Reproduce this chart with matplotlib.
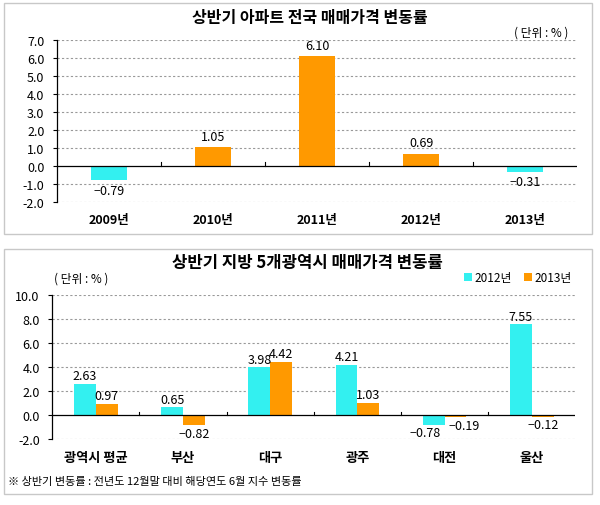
import matplotlib
matplotlib.use('agg')
import matplotlib.pyplot as plt
from matplotlib.patches import Rectangle
import numpy as np

plt.rcParams['font.family'] = ['Noto Sans CJK KR', 'DejaVu Sans']
plt.rcParams['axes.unicode_minus'] = False

# top chart data
years = ['2009년', '2010년', '2011년', '2012년', '2013년']
national = [-0.79, 1.05, 6.10, 0.69, -0.31]

# bottom chart data
cities = ['광역시 평균', '부산', '대구', '광주', '대전', '울산']
rate_2012 = [2.63, 0.65, 3.98, 4.21, -0.78, 7.55]
rate_2013 = [0.97, -0.82, 4.42, 1.03, -0.19, -0.12]
series_names = ['2012년', '2013년']

CYAN = '#33F0F0'
ORANGE = '#FF9900'
GRID = '#999999'


def style_axes(ax, lo, hi, step, n):
    ax.set_ylim(lo, hi)
    ax.set_xlim(-0.5, n - 0.5)
    ticks = np.arange(lo, hi + step / 2, step)
    ax.set_yticks(ticks)
    ax.set_yticklabels(['%.1f' % t for t in ticks], fontsize=9)
    for t in ticks:
        if abs(t) > 1e-9:
            ax.axhline(t, color=GRID, lw=0.8, ls=(0, (2, 2)), zorder=0)
    ax.axhline(0, color='black', lw=0.9, zorder=3)
    tick_h = (hi - lo) * 0.025
    for b in np.arange(0.5, n - 0.5, 1.0):
        ax.plot([b, b], [0, tick_h], color='black', lw=0.8, zorder=3)
    for s in ['top', 'right', 'bottom']:
        ax.spines[s].set_visible(False)
    ax.spines['left'].set_linewidth(0.9)
    ax.tick_params(axis='y', length=3, width=0.8, pad=6)
    ax.tick_params(axis='x', length=0, pad=8)


def fmt(v):
    return '%.2f' % v if v >= 0 else '\u2212%.2f' % abs(v)


fig = plt.figure(figsize=(6, 5.06), dpi=100)

# frames around each chart
fig.patches.append(Rectangle((0.007, 0.536), 0.98, 0.456, transform=fig.transFigure,
                             fill=False, ec='#c8c8c8', lw=1))
fig.patches.append(Rectangle((0.007, 0.022), 0.98, 0.484, transform=fig.transFigure,
                             fill=False, ec='#c8c8c8', lw=1))

# ---- top chart
ax1 = fig.add_axes([0.095, 0.599, 0.867, 0.320])
x1 = np.arange(len(years))
colors = [ORANGE if v >= 0 else CYAN for v in national]
ax1.bar(x1, national, width=0.34, color=colors, zorder=2)
style_axes(ax1, -2.0, 7.0, 1.0, len(years))
ax1.set_xticks(x1)
ax1.set_xticklabels(years, fontsize=9, fontweight='bold')
for xi, v in zip(x1, national):
    if v >= 0:
        ax1.text(xi, v + 0.25, fmt(v), ha='center', va='bottom', fontsize=9)
    else:
        ax1.text(xi, v - 0.2, fmt(v), ha='center', va='top', fontsize=9)
fig.text(0.517, 0.964, '상반기 아파트 전국 매매가격 변동률', ha='center', va='center',
         fontsize=11.5, fontweight='bold')
fig.text(0.948, 0.935, '( 단위 : % )', ha='right', va='center', fontsize=8.5)

# ---- bottom chart
ax2 = fig.add_axes([0.087, 0.130, 0.872, 0.285])
x2 = np.arange(len(cities))
w = 0.25
ax2.bar(x2 - w / 2, rate_2012, width=w, color=CYAN, zorder=2, label=series_names[0])
ax2.bar(x2 + w / 2, rate_2013, width=w, color=ORANGE, zorder=2, label=series_names[1])
style_axes(ax2, -2.0, 10.0, 2.0, len(cities))
ax2.set_xticks(x2)
ax2.set_xticklabels(cities, fontsize=9.5, fontweight='bold')
for xi, a, b in zip(x2, rate_2012, rate_2013):
    # spread labels apart when both hang below the axis
    nudge = 0.1 if (a < 0 and b < 0) else 0.0
    for off, v in [(-w / 2 - nudge, a), (w / 2 + nudge, b)]:
        if v >= 0:
            ax2.text(xi + off, v + 0.15, fmt(v), ha='center', va='bottom', fontsize=9)
        else:
            ax2.text(xi + off, v - 0.15, fmt(v), ha='center', va='top', fontsize=9)
fig.text(0.513, 0.480, '상반기 지방 5개광역시 매매가격 변동률', ha='center', va='center',
         fontsize=12, fontweight='bold')
fig.text(0.09, 0.449, '( 단위 : % )', ha='left', va='center', fontsize=8.5)
ax2.legend(loc='center', bbox_to_anchor=(0.863, 0.449), bbox_transform=fig.transFigure,
           ncol=2, frameon=False, fontsize=8.5, handlelength=0.7, handleheight=0.7,
           handletextpad=0.2, columnspacing=1.0)

fig.text(0.013, 0.047, '※ 상반기 변동률 : 전년도 12월말 대비 해당연도 6월 지수 변동률',
         ha='left', va='center', fontsize=8)

fig.savefig('out.png', dpi=100)
